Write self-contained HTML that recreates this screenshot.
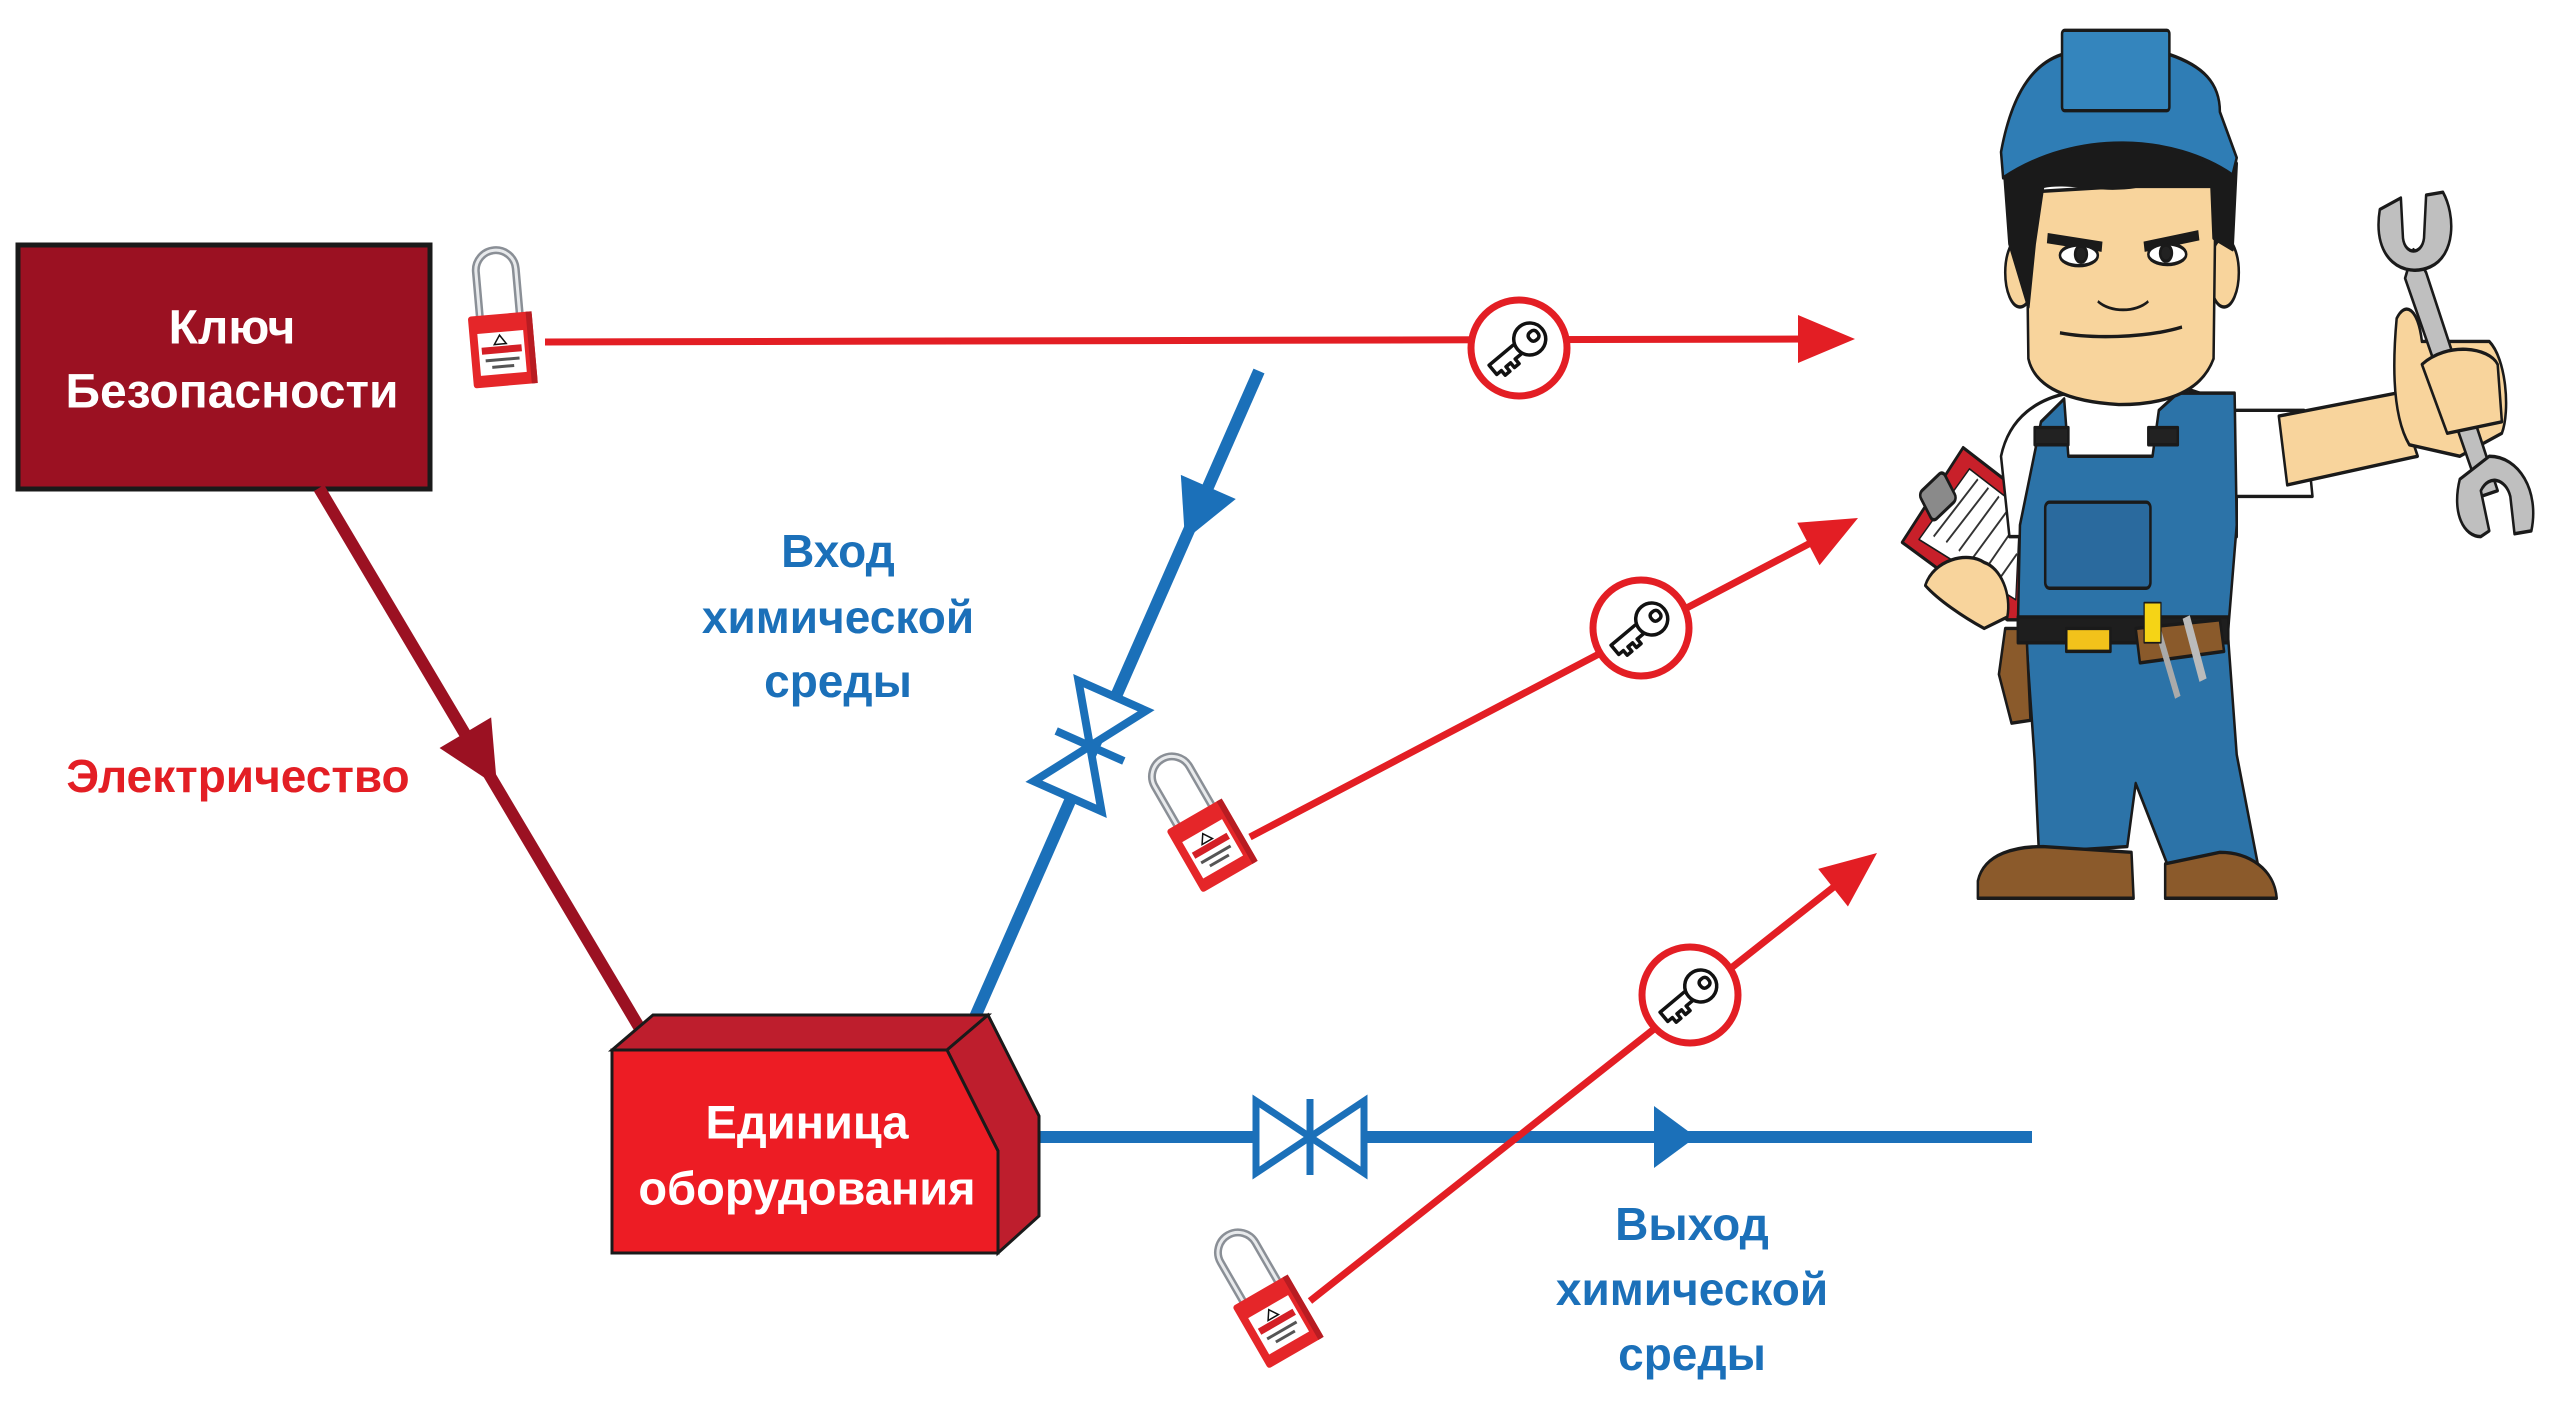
<!DOCTYPE html>
<html><head><meta charset="utf-8"><style>
html,body{margin:0;padding:0;background:#fff;}
svg{display:block;}
text{font-family:"Liberation Sans","DejaVu Sans",sans-serif;font-weight:bold;}
</style></head><body>
<svg width="2560" height="1421" viewBox="0 0 2560 1421" xmlns="http://www.w3.org/2000/svg">
<defs>
 <g id="key">
  <circle r="48" fill="#fff" stroke="#e31e24" stroke-width="7"/>
  <g transform="rotate(-40)" fill="none" stroke="#111" stroke-width="3.5" stroke-linejoin="round">
   <path d="M-2,-6 L-34,-6 L-34,6 L-28,6 L-28,12 L-22,12 L-22,6 L-16,6 L-16,12 L-10,12 L-10,6 L-2,6"/>
   <circle cx="14" cy="0" r="16" fill="#fff"/>
   <rect x="14" y="-5" width="10" height="10" rx="4"/>
  </g>
 </g>
 <g id="lock">
  <path d="M-20,2 L-20,-48 A20,20 0 0 1 20,-48 L20,2" fill="none" stroke="#8a8f96" stroke-width="8"/>
  <path d="M-20,2 L-20,-48 A20,20 0 0 1 20,-48 L20,2" fill="none" stroke="#e8eaec" stroke-width="3"/>
  <rect x="-32" y="-4" width="64" height="72" rx="3" fill="#e52629"/>
  <rect x="26" y="-4" width="6" height="72" fill="#b81c22"/>
  <rect x="-24" y="14" width="46" height="42" fill="#fff"/>
  <rect x="-21" y="28" width="40" height="7" fill="#d41f26"/>
  <path d="M-2,17 L4,26 L-8,26 Z" fill="none" stroke="#111" stroke-width="1.5"/>
  <rect x="-18" y="40" width="34" height="3" fill="#555"/>
  <rect x="-12" y="47" width="22" height="3" fill="#555"/>
 </g>
</defs>

<rect x="18" y="245" width="412" height="244" fill="#9b1122" stroke="#1a1a1a" stroke-width="5"/>
<text x="232" y="328" fill="#fff" font-size="48" text-anchor="middle" dominant-baseline="central">Ключ</text>
<text x="232" y="392" fill="#fff" font-size="48" text-anchor="middle" dominant-baseline="central">Безопасности</text>

<line x1="319" y1="488" x2="642" y2="1032" stroke="#9b1122" stroke-width="12"/>
<g transform="translate(497,786) rotate(59.3)"><polygon points="0,0 -62,-30 -62,30" fill="#9b1122"/></g>
<text x="238" y="776" fill="#e31e24" font-size="46" text-anchor="middle" dominant-baseline="central">Электричество</text>

<line x1="1259" y1="371" x2="975" y2="1017" stroke="#1b70b9" stroke-width="12"/>
<g transform="translate(1185,540) rotate(113.7)"><polygon points="0,0 -58,-30 -58,30" fill="#1b70b9"/></g>
<g transform="translate(1090,746) rotate(-66.1)">
 <polygon points="0,0 -55,-37 -55,37" fill="#fff" stroke="#1b70b9" stroke-width="8"/>
 <polygon points="0,0 55,-37 55,37" fill="#fff" stroke="#1b70b9" stroke-width="8"/>
 <line x1="0" y1="-37" x2="0" y2="37" stroke="#1b70b9" stroke-width="8"/>
</g>
<text x="838" y="551" fill="#1b70b9" font-size="46" text-anchor="middle" dominant-baseline="central">Вход</text>
<text x="838" y="617" fill="#1b70b9" font-size="46" text-anchor="middle" dominant-baseline="central">химической</text>
<text x="838" y="681" fill="#1b70b9" font-size="46" text-anchor="middle" dominant-baseline="central">среды</text>

<line x1="1040" y1="1137" x2="2032" y2="1137" stroke="#1b70b9" stroke-width="12"/>
<polygon points="1696,1137 1654,1106 1654,1168" fill="#1b70b9"/>
<g transform="translate(1310,1137)">
 <polygon points="0,0 -54,-36 -54,36" fill="#fff" stroke="#1b70b9" stroke-width="7"/>
 <polygon points="0,0 54,-36 54,36" fill="#fff" stroke="#1b70b9" stroke-width="7"/>
 <line x1="0" y1="-38" x2="0" y2="38" stroke="#1b70b9" stroke-width="7"/>
</g>
<text x="1692" y="1224" fill="#1b70b9" font-size="46" text-anchor="middle" dominant-baseline="central">Выход</text>
<text x="1692" y="1289" fill="#1b70b9" font-size="46" text-anchor="middle" dominant-baseline="central">химической</text>
<text x="1692" y="1354" fill="#1b70b9" font-size="46" text-anchor="middle" dominant-baseline="central">среды</text>

<polygon points="612,1050 653,1015 988,1015 947,1050" fill="#be1e2d" stroke="#1a1a1a" stroke-width="3"/>
<polygon points="947,1050 988,1015 1039,1116 1039,1216 998,1253 998,1151" fill="#be1e2d" stroke="#1a1a1a" stroke-width="3"/>
<polygon points="612,1050 947,1050 998,1151 998,1253 612,1253" fill="#ed1c24" stroke="#1a1a1a" stroke-width="3"/>
<text x="807" y="1122" fill="#fff" font-size="47" text-anchor="middle" dominant-baseline="central">Единица</text>
<text x="807" y="1188" fill="#fff" font-size="47" text-anchor="middle" dominant-baseline="central">оборудования</text>

<line x1="545" y1="342" x2="1810" y2="339" stroke="#e31e24" stroke-width="7"/>
<polygon points="1855,339 1798,315 1798,363" fill="#e31e24"/>
<use href="#key" x="1519" y="348"/>

<line x1="1250" y1="837" x2="1820" y2="538" stroke="#e31e24" stroke-width="7"/>
<g transform="translate(1858,518) rotate(-27.7)"><polygon points="0,0 -56,-24 -56,24" fill="#e31e24"/></g>
<use href="#key" x="1641" y="628"/>

<line x1="1310" y1="1301" x2="1840" y2="882" stroke="#e31e24" stroke-width="7"/>
<g transform="translate(1877,853) rotate(-38.3)"><polygon points="0,0 -56,-24 -56,24" fill="#e31e24"/></g>
<use href="#key" x="1690" y="995"/>

<g transform="translate(500,318) rotate(-5)"><use href="#lock"/></g>
<g transform="translate(1196,818) rotate(-30)"><use href="#lock"/></g>
<g transform="translate(1262,1294) rotate(-30)"><use href="#lock"/></g>

<g transform="translate(1900,20) scale(0.4209,0.574)" stroke="#1a1a1a" stroke-width="6" stroke-linejoin="round">
 <polygon points="5,910 150,745 300,830 285,1045 255,1045" fill="#c8202a"/>
 <polygon points="45,905 165,782 285,850 275,1010" fill="#fff" stroke-width="3"/>
 <g stroke="#333" stroke-width="4">
  <line x1="80" y1="900" x2="185" y2="800"/><line x1="110" y1="910" x2="210" y2="815"/>
  <line x1="140" y1="925" x2="235" y2="830"/><line x1="170" y1="940" x2="260" y2="850"/>
  <line x1="200" y1="960" x2="275" y2="880"/><line x1="230" y1="980" x2="278" y2="930"/>
 </g>
 <rect x="55" y="800" width="70" height="60" rx="10" fill="#8a8a8a" transform="rotate(-35 90 830)"/>
 <path d="M300,1080 L780,1080 L800,1280 L850,1470 L640,1480 L560,1330 L540,1440 L330,1450 L320,1290 Z" fill="#2c73a8"/>
 <path d="M250,1060 L300,1060 L310,1220 L265,1225 L235,1140 Z" fill="#8a5a2b"/>
 <path d="M185,1500 C200,1450 280,1440 340,1440 L550,1450 L555,1530 L185,1530 Z" fill="#8b5a2b"/>
 <path d="M630,1470 L760,1450 C830,1450 890,1480 895,1530 L630,1530 Z" fill="#8b5a2b"/>
 <path d="M240,760 C260,690 330,660 400,650 L660,640 C740,650 790,680 800,700 L800,900 L260,900 Z" fill="#fff"/>
 <path d="M680,680 L960,680 L980,830 L740,830 Z" fill="#fff"/>
 <path d="M900,690 L1180,650 L1230,760 L920,810 Z" fill="#f8d49c"/>
 <path d="M1180,520 C1200,490 1230,500 1240,560 L1400,560 C1440,590 1450,680 1430,720 L1330,760 L1210,740 C1170,690 1170,600 1180,520 Z" fill="#f8d49c"/>
 <path d="M1220,400 L1250,440 L1420,820 L1380,830 L1200,450 Z" fill="#bfbfbf"/>
 <path d="M1140,330 C1120,420 1200,450 1260,430 C1320,410 1320,340 1290,300 L1250,305 L1245,380 C1240,410 1200,410 1195,380 L1190,310 Z" fill="#bfbfbf"/>
 <path d="M1330,800 C1310,860 1340,900 1380,900 L1400,890 L1380,820 C1400,790 1440,800 1450,830 L1460,895 L1500,890 C1520,820 1470,760 1400,760 Z" fill="#bfbfbf"/>
 <path d="M1240,600 C1300,560 1400,570 1420,600 L1430,700 L1300,720 Z" fill="#f8d49c"/>
 <path d="M335,700 L390,660 L400,760 L600,760 L615,680 L660,650 L795,650 L800,880 L780,1060 L280,1060 L285,880 Z" fill="#2c73a8"/>
 <rect x="345" y="840" width="250" height="150" rx="10" fill="#2a6a9e"/>
 <rect x="320" y="710" width="80" height="30" fill="#222"/>
 <rect x="590" y="710" width="70" height="30" fill="#222"/>
 <rect x="280" y="1040" width="500" height="45" fill="#1e1e1e"/>
 <rect x="395" y="1060" width="105" height="40" fill="#f2c21b"/>
 <path d="M560,1060 L760,1045 L770,1100 L570,1120 Z" fill="#8a5a2b"/>
 <line x1="600" y1="1030" x2="660" y2="1180" stroke="#aaa" stroke-width="14"/>
 <rect x="580" y="1015" width="40" height="70" fill="#f5d416" stroke-width="3"/>
 <line x1="680" y1="1040" x2="720" y2="1150" stroke="#bbb" stroke-width="18"/>
 <path d="M60,985 C80,940 160,925 200,945 C240,955 265,1000 255,1040 L200,1060 C150,1040 90,1010 60,985 Z" fill="#f8d49c"/>
 <ellipse cx="285" cy="440" rx="35" ry="60" fill="#f8d49c"/>
 <ellipse cx="770" cy="440" rx="35" ry="60" fill="#f8d49c"/>
 <path d="M300,300 L750,280 L745,590 C720,640 650,670 520,670 C400,665 320,640 305,590 Z" fill="#f8d49c"/>
 <path d="M245,240 C280,160 400,130 520,150 C600,130 660,140 665,140 C700,170 760,200 800,250 L790,400 L745,380 L740,290 L560,290 C470,300 400,280 340,290 L320,390 L305,500 L260,390 Z" fill="#1a1a1a"/>
 <path d="M240,230 C260,150 300,80 385,60 L640,60 C720,80 760,110 760,160 L800,240 L790,270 C650,200 420,190 245,275 Z" fill="#2f7db5"/>
 <rect x="385" y="18" width="255" height="140" rx="6" fill="#3485bd"/>
 <path d="M350,380 L480,395" stroke-width="18"/>
 <path d="M580,395 L710,375" stroke-width="18"/>
 <ellipse cx="425" cy="410" rx="45" ry="18" fill="#fff"/>
 <circle cx="430" cy="408" r="14" fill="#222"/>
 <ellipse cx="635" cy="408" rx="45" ry="18" fill="#fff"/>
 <circle cx="632" cy="406" r="14" fill="#222"/>
 <path d="M470,490 C500,510 560,510 590,490" fill="none" stroke-width="5"/>
 <path d="M380,545 C450,555 580,555 670,535" fill="none" stroke-width="6"/>
</g>
</svg>
</body></html>
